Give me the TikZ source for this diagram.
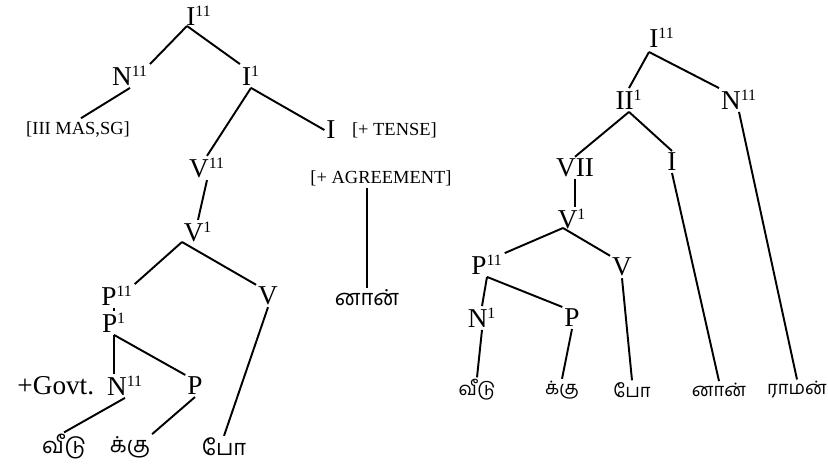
\documentclass[tikz,border=0pt]{standalone}
\usepackage{fontspec}
\setmainfont{Liberation Serif}
\newfontfamily\tamilfont[Script=Tamil]{Hind Madurai}
\usetikzlibrary{positioning}
\newcommand\upn[1]{$^{\hbox{\fontsize{9}{9}\selectfont #1}}$}

\begin{document}
\begin{tikzpicture}[
    x=0.02cm, y=-0.02cm,
    % category labels of the trees
    cat/.style={font=\fontsize{15.5}{18}\selectfont, inner sep=1pt},
    % feature bundles in brackets
    feat/.style={font=\fontsize{10.5}{12}\selectfont, inner sep=1pt},
    % Tamil morphemes at the leaves
    leaf/.style={font=\tamilfont\fontsize{12.5}{15}\selectfont, inner sep=1pt},
    rleaf/.style={font=\tamilfont\fontsize{10.5}{13}\selectfont, inner sep=1pt},
    branch/.style={line width=1.1pt}
]
    \useasboundingbox (0,0) rectangle (828,472);

    % Left tree: nodes
    \node[cat] (lI2)  at (199, 16)  {I\upn{11}};
    \node[cat] (lN2)  at (130, 76)  {N\upn{11}};
    \node[cat] (lI1)  at (251, 76)  {I\upn{1}};
    \node[feat] (lphi) at (78, 130) {[III MAS,SG]};
    \node[cat] (lI)   at (331, 130) {I};
    \node[feat, right=7pt of lI] (ltense) {[+ TENSE]};
    \node[cat] (lV2)  at (207, 168) {V\upn{11}};
    \node[feat] (lagr) at (381, 178) {[+ AGREEMENT]};
    \node[cat] (lV1)  at (198, 232) {V\upn{1}};
    \node[leaf] (lnan) at (367, 298) {னான்};
    \node[cat] (lP2)  at (117, 296) {P\upn{11}};
    \node[cat] (lV)   at (268, 296) {V};
    \node[cat] (lP1)  at (114, 323) {P\upn{1}};
    \node[cat] (lN2b) at (125, 386) {N\upn{11}};
    \node[cat, left=5pt of lN2b] (lgovt) {+Govt.};
    \node[cat] (lP)   at (195, 386) {P};
    \node[leaf] (lveedu) at (64, 447) {வீடு};
    \node[leaf] (lkku)   at (130, 447) {க்கு};
    \node[leaf] (lpo)    at (224, 447) {போ};

    % Left tree: branches
    \draw[branch] (187, 26) coordinate (la) -- (lN2.north east);
    \draw[branch] (la) -- (lI1.north west);
    \draw[branch, shorten >=2pt] (lN2.south) -- (lphi.north);
    \draw[branch] (lI1.south) -- (lV2.north);
    \draw[branch] (lI1.south) -- (lI.west);
    \draw[branch] (lV2.south) -- (lV1.north);
    \draw[branch] (lnan.north |- lagr.south) -- (lnan.north);
    \draw[branch] (182, 242) coordinate (lb) -- (lP2.north east);
    \draw[branch] (lb) -- (lV.north west);
    \draw[branch] (lP1.north |- lP2.south) -- (lP1.north);
    \draw[branch] (lP1.south) -- (lP1.south |- lN2b.north);
    \draw[branch] (lP1.south) -- (lP.north west);
    \draw[branch] (lN2b.south) -- (lveedu.north);
    \draw[branch] (lP.south) -- (lkku.north east);
    \draw[branch] (lV.south) -- (lpo.north);

    % Right tree: nodes
    \node[cat] (rI2)  at (662, 38)  {I\upn{11}};
    \node[cat] (rI1)  at (629, 100) {II\upn{1}};
    \node[cat] (rN2)  at (739, 100) {N\upn{11}};
    \node[cat] (rV2)  at (575, 168) {VII};
    \node[cat] (rI)   at (672, 162) {I};
    \node[cat] (rV1)  at (572, 219) {V\upn{1}};
    \node[cat] (rP2)  at (487, 265) {P\upn{11}};
    \node[cat] (rV)   at (622, 267) {V};
    \node[cat] (rN1)  at (482, 318) {N\upn{1}};
    \node[cat] (rP)   at (572, 318) {P};
    \node[rleaf] (rveedu) at (477, 390) {வீடு};
    \node[rleaf] (rkku)   at (562, 390) {க்கு};
    \node[rleaf] (rpo)    at (632, 390) {போ};
    \node[rleaf] (rnan)   at (719, 390) {னான்};
    \node[rleaf] (rraman) at (797, 390) {ராமன்};

    % Right tree: branches
    \draw[branch] (649, 52) coordinate (ra) -- (rI1.north);
    \draw[branch] (ra) -- (rN2.north west);
    \draw[branch] (rI1.south) -- (rV2.north);
    \draw[branch] (rI1.south) -- (rI.north);
    \draw[branch] (rN2.south) -- (rraman.north);
    \draw[branch] (rI.south) -- (rnan.north);
    \draw[branch] (rV2.south) -- (rV1.north -| rV2.south);
    \draw[branch] (563, 228) coordinate (rb) -- (rP2.north east);
    \draw[branch] (rb) -- (rV.north west);
    \draw[branch] (rP2.south) -- (rN1.north);
    \draw[branch] (rP2.south) -- (rP.north west);
    \draw[branch] (rN1.south) -- (rveedu.north);
    \draw[branch] (rP.south) -- (rkku.north);
    \draw[branch] (rV.south) -- (rpo.north);

\end{tikzpicture}
\end{document}
